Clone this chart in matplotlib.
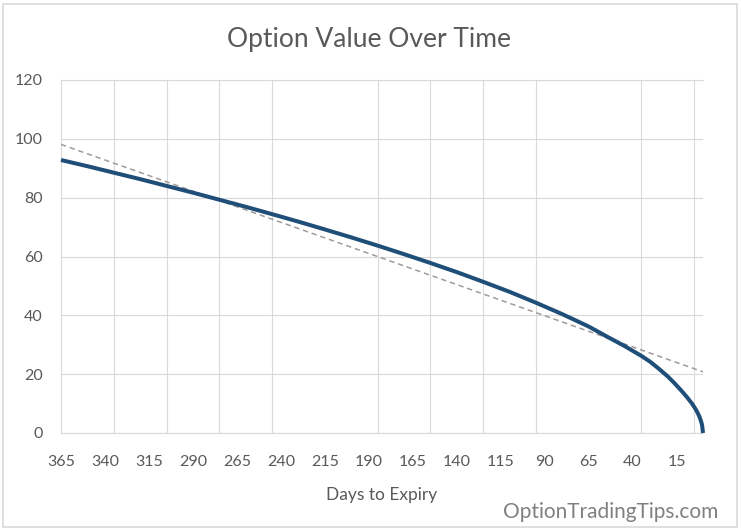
import matplotlib.pyplot as plt
from matplotlib.patches import Rectangle

# Values
days = [365, 350, 335, 320, 305, 290, 275, 260, 245, 230, 215, 200, 185, 170,
        155, 140, 125, 110, 95, 80, 65, 55, 45, 35, 30, 25, 20, 16, 12, 9, 6, 4,
        3, 2, 1, 0.5, 0]
value = [92.8, 90.7, 88.5, 86.3, 84.0, 81.7, 79.3, 76.9, 74.4, 71.85, 69.2, 66.5,
         63.7, 60.8, 57.8, 54.7, 51.4, 48.0, 44.3, 40.4, 36.2, 32.9, 29.7, 26.2,
         24.2, 21.8, 19.2, 16.8, 14.2, 12.1, 9.8, 7.9, 6.8, 5.5, 3.8, 2.6, 0.0]

# Linear trend line end points (day 365 and day 0)
trend_days = [365, 0]
trend_value = [98.1, 20.8]

label_days = list(range(365, 0, -25))
grid_days = list(range(335, 0, -30))
y_ticks = [0, 20, 40, 60, 80, 100, 120]

plt.rcParams['font.family'] = ['Lato', 'DejaVu Sans']

fig = plt.figure(figsize=(7.41, 5.31), dpi=100)
ax = fig.add_axes([61 / 741, 98 / 531, 642 / 741, 353 / 531])

grid_c = '#d9d9d9'
text_c = '#595959'

ax.plot(trend_days, trend_value, color='#a39999', lw=1.1, dashes=(3.5, 2.5), zorder=3)
ax.plot(days, value, color='#1f4e79', lw=2.9, solid_capstyle='butt', clip_on=False, zorder=4)

ax.set_xlim(365, 0)
ax.set_ylim(0, 120)
ax.set_xticks(label_days)
ax.set_xticks(grid_days, minor=True)
ax.set_yticks(y_ticks)
ax.tick_params(which='both', length=0, colors=text_c, labelsize=11.5)
ax.tick_params(axis='x', pad=16)
ax.tick_params(axis='y', pad=13)
ax.grid(axis='y', which='major', color=grid_c, lw=0.8)
ax.grid(axis='x', which='minor', color=grid_c, lw=0.8)
ax.set_axisbelow(True)

for s in ['left', 'top', 'bottom']:
    ax.spines[s].set_color(grid_c)
    ax.spines[s].set_linewidth(0.8)
ax.spines['right'].set_visible(False)

ax.set_xlabel('Days to Expiry', color=text_c, fontsize=12.5, labelpad=13)

fig.text(369 / 741, 1 - 40 / 531, 'Option Value Over Time', ha='center', va='center',
         color=text_c, fontsize=19)
fig.text(718 / 741, 1 - 512 / 531, 'OptionTradingTips.com', ha='right', va='center',
         color='#808080', fontsize=15)

fig.patches.append(Rectangle((3 / 741, 4 / 531), 734 / 741, 523 / 531, transform=fig.transFigure,
                             fill=False, edgecolor=grid_c, lw=1.2))

fig.savefig('out.png', dpi=100, facecolor='white')
